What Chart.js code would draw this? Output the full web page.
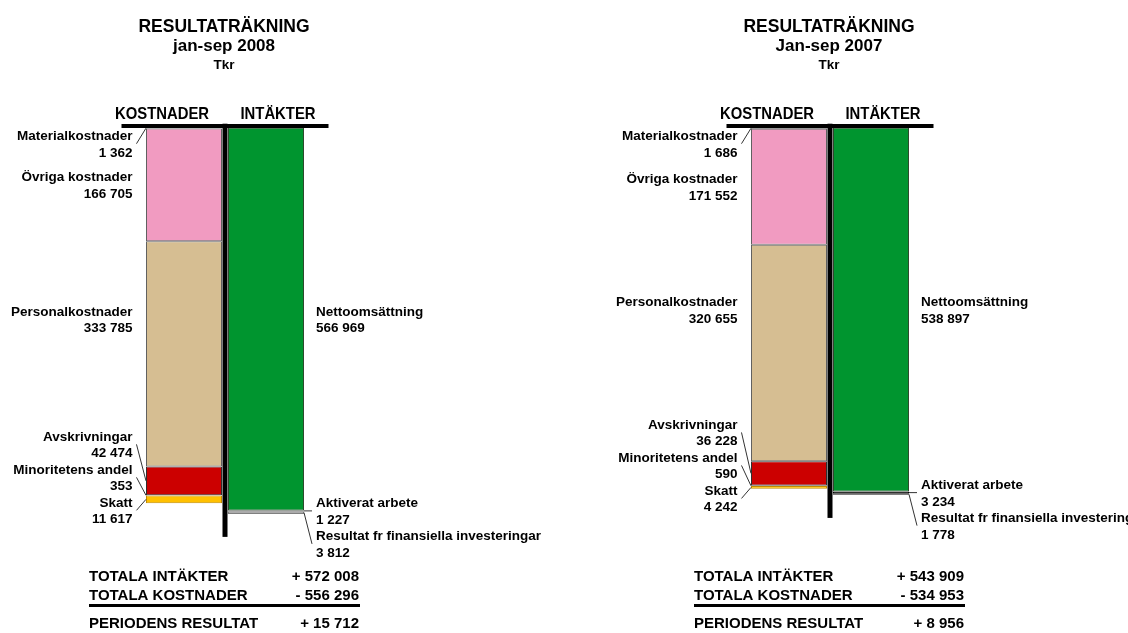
<!DOCTYPE html>
<html lang="sv">
<head>
<meta charset="utf-8">
<title>Resultaträkning</title>
<script src="https://cdn.jsdelivr.net/npm/chart.js@4.4.1/dist/chart.umd.min.js"></script>
<style>
  html, body { margin: 0; padding: 0; background: #fff; overflow: hidden; }
  #wrap { position: relative; width: 1128px; height: 633px; }
  canvas { position: absolute; top: 0; }
  #c2008 { left: 0; }
  #c2007 { left: 605px; }
</style>
</head>
<body>
<div id="wrap">
  <canvas id="c2008" width="605" height="633"></canvas>
  <canvas id="c2007" width="523" height="633"></canvas>
</div>
<script>
// data (Tkr)
const columnHeads = ['KOSTNADER', 'INTÄKTER'];
const costLabels = ['Materialkostnader', 'Övriga kostnader', 'Personalkostnader',
  'Avskrivningar', 'Minoritetens andel', 'Skatt'];
const incomeLabels = ['Nettoomsättning', 'Aktiverat arbete', 'Resultat fr finansiella investeringar'];
const costs2008 = [1362, 166705, 333785, 42474, 353, 11617];
const income2008 = [566969, 1227, 3812];
const costs2007 = [1686, 171552, 320655, 36228, 590, 4242];
const income2007 = [538897, 3234, 1778];
const totalRows = ['TOTALA INTÄKTER', 'TOTALA KOSTNADER', 'PERIODENS RESULTAT'];

const costColors = ['#8c5a6e', '#F19BC1', '#D6BE92', '#CC0000', '#000000', '#FFC000'];
const costBorders = ['#505050', '#606060', '#606060', '#303030', '#000000', '#C08A00'];
const incomeColors = ['#00952F', '#000000', '#9A9A9A'];
const incomeBorders = ['#2e4a2e', '#000000', '#808080'];
const FONT = "'Liberation Sans', Arial, sans-serif";

const sum = arr => arr.reduce((a, b) => a + b, 0);
const fmt = v => String(v).replace(/\B(?=(\d{3})+(?!\d))/g, ' ');

function text(ctx, str, x, y, font, align, sx) {
  ctx.save();
  ctx.font = font;
  ctx.textAlign = align;
  ctx.textBaseline = 'alphabetic';
  ctx.fillStyle = '#000';
  ctx.translate(x, y);
  if (sx) ctx.scale(sx, 1);
  ctx.fillText(str, 0, 0);
  ctx.restore();
}

const GAP = 33;
// income labels: push down from the top
function layoutIncome(anchors, top) {
  const pos = [];
  anchors.forEach((a, i) => {
    pos[i] = i === 0 ? Math.max(a, top + 16) : Math.max(a, pos[i - 1] + GAP);
  });
  return pos;
}
// cost labels: push up from the bottom, biggest one level with biggest income label
function layoutCosts(anchors, top, bigIdx, alignY) {
  const n = anchors.length;
  const pos = [];
  pos[n - 1] = anchors[n - 1] + 11;
  for (let i = n - 2; i >= 0; i--) pos[i] = Math.min(anchors[i], pos[i + 1] - GAP);
  pos[bigIdx] = alignY;
  pos[0] = Math.max(pos[0], top + 16);
  for (let i = 1; i < n; i++) pos[i] = Math.max(pos[i], pos[i - 1] + GAP);
  return pos;
}

const resultatPlugin = {
  id: 'resultat',
  afterDatasetsDraw(chart, args, opts) {
    const { ctx, chartArea } = chart;
    const { x, y } = chart.scales;
    const top = chartArea.top;
    const nCost = opts.costs.length;
    const costSegs = [], incSegs = [];
    chart.data.datasets.forEach((ds, i) => {
      const el = chart.getDatasetMeta(i).data[i < nCost ? 0 : 1];
      const a = Math.min(el.y, el.base), b = Math.max(el.y, el.base);
      const seg = { mid: (a + b) / 2, h: b - a, left: el.x - el.width / 2, right: el.x + el.width / 2 };
      (i < nCost ? costSegs : incSegs).push(seg);
    });
    const mid = (x.getPixelForValue(0) + x.getPixelForValue(1)) / 2;
    const costLeft = costSegs[0].left, incRight = incSegs[0].right;
    const sumCost = sum(opts.costs), sumInc = sum(opts.income);

    // divider and top rule
    const bottom = y.getPixelForValue(Math.max(sumCost, sumInc)) + 23;
    ctx.save();
    ctx.fillStyle = '#000';
    ctx.fillRect(mid - 2.5, top - 4, 5, bottom - top + 4);
    ctx.fillRect(mid - 103.5, top - 3.7, 207, 4);
    ctx.restore();

    // titles
    text(ctx, 'RESULTATRÄKNING', mid - 1, 31.5, 'bold 17.5px ' + FONT, 'center');
    text(ctx, opts.period, mid - 1, 50.5, 'bold 17px ' + FONT, 'center');
    text(ctx, 'Tkr', mid - 1, 69, 'bold 13.5px ' + FONT, 'center');
    text(ctx, columnHeads[0], mid - 63, 119, 'bold 16.5px ' + FONT, 'center', 0.9);
    text(ctx, columnHeads[1], mid + 53, 119, 'bold 16.5px ' + FONT, 'center', 0.9);

    // segment labels
    const posI = layoutIncome(incSegs.map(s => s.mid), top);
    const bigC = opts.costs.indexOf(Math.max(...opts.costs));
    const bigI = opts.income.indexOf(Math.max(...opts.income));
    const posC = layoutCosts(costSegs.map(s => s.mid), top, bigC, posI[bigI]);
    const lblFont = 'bold 13.5px ' + FONT;
    const cx = costLeft - 13.5, ix = incRight + 12;

    ctx.save();
    ctx.strokeStyle = '#333';
    ctx.lineWidth = 1;
    costSegs.forEach((s, i) => {
      if (s.h < 40) {
        ctx.beginPath();
        ctx.moveTo(cx + 4, posC[i]);
        ctx.lineTo(costLeft, s.mid);
        ctx.stroke();
      }
    });
    incSegs.forEach((s, i) => {
      if (s.h < 40) {
        ctx.beginPath();
        ctx.moveTo(incRight, s.mid);
        ctx.lineTo(ix - 4, posI[i]);
        ctx.stroke();
      }
    });
    ctx.restore();

    costLabels.forEach((name, i) => {
      text(ctx, name, cx, posC[i] - 8.25 + 4.8, lblFont, 'right');
      text(ctx, fmt(opts.costs[i]), cx, posC[i] + 8.25 + 4.8, lblFont, 'right');
    });
    incomeLabels.forEach((name, i) => {
      text(ctx, name, ix, posI[i] - 8.25 + 4.8, lblFont, 'left');
      text(ctx, fmt(opts.income[i]), ix, posI[i] + 8.25 + 4.8, lblFont, 'left');
    });

    // totals
    const res = sumInc - sumCost;
    const vals = ['+ ' + fmt(sumInc), '- ' + fmt(sumCost), (res >= 0 ? '+ ' : '- ') + fmt(Math.abs(res))];
    const rowY = [581, 599.5, 628];
    const totFont = 'bold 15px ' + FONT;
    totalRows.forEach((r, i) => {
      text(ctx, r, mid - 136, rowY[i], totFont, 'left');
      text(ctx, vals[i], mid + 134, rowY[i], totFont, 'right');
    });
    ctx.save();
    ctx.fillStyle = '#000';
    ctx.fillRect(mid - 136, 604, 271, 3);
    ctx.restore();
  }
};

function makeChart(id, period, costs, income) {
  const canvas = document.getElementById(id);
  const datasets = [];
  costs.forEach((v, i) => datasets.push({
    label: costLabels[i], data: [v, null], backgroundColor: costColors[i], borderColor: costBorders[i]
  }));
  income.forEach((v, i) => datasets.push({
    label: incomeLabels[i], data: [null, v], backgroundColor: incomeColors[i], borderColor: incomeBorders[i]
  }));
  return new Chart(canvas, {
    type: 'bar',
    data: { labels: columnHeads, datasets },
    options: {
      responsive: false,
      animation: false,
      layout: { padding: { left: 143, right: canvas.width - 307, top: 127.7, bottom: 32.7 } },
      datasets: {
        bar: { barPercentage: 0.927, categoryPercentage: 1, borderWidth: 1, borderSkipped: false }
      },
      scales: {
        x: { stacked: true, display: false },
        y: { stacked: true, display: false, reverse: true, min: 0, max: 700000 }
      },
      plugins: {
        legend: { display: false },
        tooltip: { enabled: false },
        resultat: { period, costs, income }
      }
    },
    plugins: [resultatPlugin]
  });
}

makeChart('c2008', 'jan-sep 2008', costs2008, income2008);
makeChart('c2007', 'Jan-sep 2007', costs2007, income2007);
</script>
</body>
</html>
